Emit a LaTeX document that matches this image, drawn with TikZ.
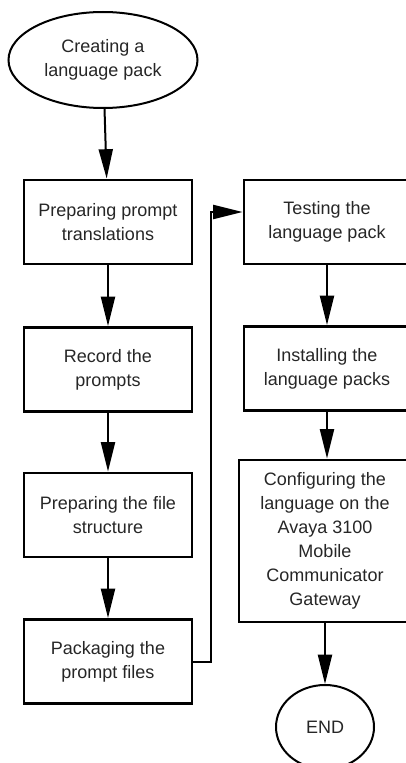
\documentclass[tikz,border=0pt]{standalone}
\usepackage{fontspec}
\setmainfont{Liberation Sans}
\usetikzlibrary{arrows.meta,shapes.geometric}

\begin{document}
\begin{tikzpicture}[x=0.75pt,y=-0.75pt,
    every node/.style={font=\fontsize{13.5}{18}\selectfont,text=black!85,align=center,inner sep=0pt},
    stepbox/.style={draw,rectangle,line width=2.2pt,minimum width=#1},
    terminal/.style={draw,ellipse,line width=1.5pt},
    flow/.style={line width=1.5pt,-{Triangle[length=22pt,width=10.5pt]}}]
    \useasboundingbox (0,0) rectangle (406,763);
    \node[terminal,minimum width=141.75pt,minimum height=72pt] (start) at (103,60) {Creating a\\language pack};
    \node[stepbox=126pt,minimum height=63pt] (prep) at (108,222) {Preparing prompt\\translations};
    \node[stepbox=126pt,minimum height=63pt] (record) at (108,369.5) {Record the\\prompts};
    \node[stepbox=126pt,minimum height=63pt] (files) at (108,515) {Preparing the file\\structure};
    \node[stepbox=126pt,minimum height=63pt] (pack) at (108,661.5) {Packaging the\\prompt files};
    \node[stepbox=124.5pt,minimum height=63pt] (test) at (327,222) {Testing the\\language pack};
    \node[stepbox=124.5pt,minimum height=63pt] (install) at (327,368.5) {Installing the\\language packs};
    \node[stepbox=129pt,minimum height=121.5pt] (config) at (325,541) {Configuring the\\language on the\\Avaya 3100\\Mobile\\Communicator\\Gateway};
    \node[terminal,minimum width=73.5pt,minimum height=63pt] (end) at (325,727) {END};
    \coordinate (turn) at (211,212);
    \draw[flow] (start) -- (prep);
    \draw[flow] (prep) -- (record);
    \draw[flow] (record) -- (files);
    \draw[flow] (files) -- (pack);
    \draw[flow] (pack.east) -| (turn) -- (test.west |- turn);
    \draw[flow] (test) -- (install);
    \draw[flow] (install.south) -- (install.south |- config.north);
    \draw[flow] (config) -- (end);
  \end{tikzpicture}
\end{document}
